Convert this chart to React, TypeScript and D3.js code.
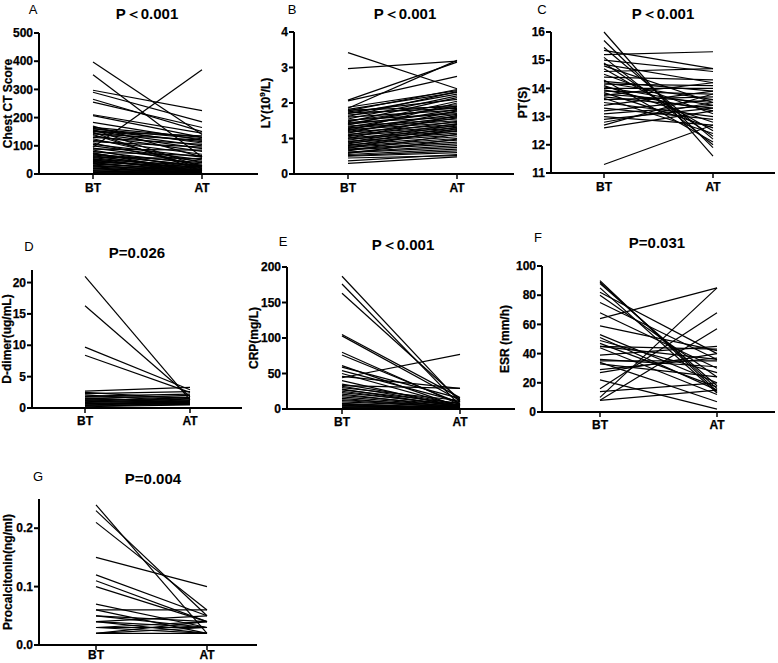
import React from "react";
import * as d3 from "d3";

// ---- Data ----
const groups = ["BT", "AT"];

const A_BT = [397, 352, 297, 290, 265, 255, 210, 207, 183, 170, 165, 162, 160, 158, 155, 152, 150, 148, 145, 142, 140, 135, 130, 125, 120, 115, 110, 105, 100, 95, 92, 88, 85, 80, 78, 75, 72, 70, 68, 65, 62, 60, 58, 55, 52, 50, 48, 45, 42, 40, 38, 35, 32, 30, 28, 25, 22, 20, 18, 15, 12, 10, 8, 5, 3];
const A_AT = [140, 60, 225, 185, 150, 165, 145, 130, 120, 60, 130, 110, 125, 25, 115, 100, 135, 10, 90, 120, 20, 80, 105, 40, 70, 95, 30, 60, 50, 370, 45, 85, 15, 35, 65, 5, 25, 40, 30, 10, 20, 55, 15, 5, 30, 12, 8, 20, 25, 5, 10, 15, 3, 8, 12, 5, 2, 6, 4, 2, 1, 3, 0, 2, 1];

const B_BT = [3.42, 2.97, 2.08, 2.06, 1.88, 1.85, 1.82, 1.80, 1.78, 1.75, 1.72, 1.70, 1.66, 1.62, 1.60, 1.55, 1.52, 1.50, 1.47, 1.45, 1.42, 1.40, 1.38, 1.35, 1.32, 1.30, 1.28, 1.25, 1.22, 1.20, 1.18, 1.15, 1.12, 1.10, 1.08, 1.05, 1.02, 1.00, 0.98, 0.95, 0.92, 0.90, 0.88, 0.85, 0.82, 0.80, 0.78, 0.75, 0.72, 0.70, 0.68, 0.65, 0.62, 0.60, 0.58, 0.55, 0.52, 0.50, 0.45, 0.37, 0.30];
const B_AT = [2.40, 3.18, 3.15, 2.75, 2.35, 3.20, 2.30, 1.90, 2.38, 2.10, 1.85, 2.25, 1.95, 2.32, 1.80, 2.20, 1.70, 1.88, 2.15, 1.60, 1.92, 1.75, 2.05, 1.55, 1.82, 1.50, 1.68, 1.45, 2.00, 1.62, 1.40, 1.78, 1.35, 1.58, 1.30, 1.48, 1.25, 1.65, 1.20, 1.42, 1.15, 1.38, 1.10, 1.32, 1.05, 1.22, 1.00, 0.95, 1.28, 0.90, 0.85, 1.12, 0.80, 0.75, 0.98, 0.70, 0.65, 0.60, 0.52, 0.55, 0.48];

const C_BT = [16.0, 15.7, 15.45, 15.35, 15.2, 15.1, 15.0, 14.9, 14.85, 14.8, 14.7, 14.6, 14.5, 14.4, 14.3, 14.25, 14.2, 14.15, 14.1, 14.05, 14.0, 13.95, 13.9, 13.85, 13.8, 13.75, 13.7, 13.65, 13.6, 13.5, 13.4, 13.3, 13.2, 13.1, 13.0, 12.9, 12.8, 12.7, 12.6, 11.3];
const C_AT = [11.6, 11.9, 12.2, 14.7, 15.3, 12.0, 14.6, 12.3, 14.2, 13.5, 12.5, 14.7, 13.1, 14.3, 12.1, 13.9, 13.6, 14.1, 12.8, 13.4, 14.0, 13.2, 13.8, 12.6, 13.5, 14.2, 13.3, 12.4, 13.7, 13.0, 13.9, 12.9, 13.6, 13.4, 12.7, 13.3, 13.5, 13.8, 13.2, 12.7];

const D_BT = [21.0, 16.3, 9.7, 8.4, 2.7, 2.5, 2.3, 2.1, 1.9, 1.8, 1.6, 1.5, 1.4, 1.3, 1.2, 1.1, 1.0, 0.9, 0.8, 0.7, 0.6, 0.5, 0.4, 0.3, 0.2];
const D_AT = [1.3, 1.8, 2.9, 2.5, 3.3, 1.5, 2.6, 1.0, 2.2, 1.7, 0.9, 2.0, 1.2, 0.8, 1.6, 0.7, 1.4, 1.1, 0.6, 1.0, 0.9, 0.8, 0.7, 0.6, 0.5];

const E_BT = [187, 176, 163, 105, 103, 80, 76, 61, 59, 54, 50, 46, 44, 40, 35, 33, 32, 30, 28, 27, 25, 23, 21, 19, 17, 15, 13, 12, 10, 8, 7, 6, 5, 4, 3, 2, 1];
const E_AT = [10, 5, 13, 16, 12, 6, 8, 3, 15, 10, 4, 29, 77, 2, 7, 29, 5, 12, 3, 8, 4, 6, 2, 5, 3, 1, 4, 2, 3, 1, 2, 1, 1, 2, 1, 1, 0.5];

const F_BT = [90, 89, 88, 85, 82, 80, 75, 68, 64, 59, 53, 51, 49, 47, 45, 45, 44, 39, 36, 35, 34, 33, 29, 27, 22, 16, 14, 10, 8, 8];
const F_AT = [14, 16, 18, 13, 40, 24, 36, 30, 85, 42, 20, 15, 27, 17, 36, 43, 12, 45, 31, 35, 7, 24, 37, 40, 2, 68, 20, 85, 57, 15];

const G_BT = [0.24, 0.23, 0.21, 0.15, 0.12, 0.11, 0.10, 0.07, 0.06, 0.06, 0.05, 0.05, 0.04, 0.04, 0.04, 0.03, 0.03, 0.03, 0.02, 0.02, 0.02];
const G_AT = [0.02, 0.05, 0.06, 0.10, 0.05, 0.04, 0.04, 0.03, 0.06, 0.02, 0.04, 0.03, 0.05, 0.02, 0.03, 0.04, 0.02, 0.03, 0.04, 0.02, 0.03];

const letters = ["A", "B", "C", "D", "E", "F", "G"];
const titles = ["P\uFF1C0.001", "P\uFF1C0.001", "P\uFF1C0.001", "P=0.026", "P\uFF1C0.001", "P=0.031", "P=0.004"];
const yLabels = ["Chest CT Score", "LY", "PT(S)", "D-dimer(ug/mL)", "CRP(mg/L)", "ESR (mm/h)", "Procalcitonin(ng/ml)"];
const yDomains: [number, number][] = [[0, 500], [0, 4], [11, 16], [0, 22], [0, 200], [0, 100], [0, 0.25]];
const yTicks = [[0, 100, 200, 300, 400, 500], [0, 1, 2, 3, 4], [11, 12, 13, 14, 15, 16], [0, 5, 10, 15, 20], [0, 50, 100, 150, 200], [0, 20, 40, 60, 80, 100], [0, 0.1, 0.2]];
const tickFormats = ["d", "d", "d", "d", "d", "d", ".1f"];
const seriesBT = [A_BT, B_BT, C_BT, D_BT, E_BT, F_BT, G_BT];
const seriesAT = [A_AT, B_AT, C_AT, D_AT, E_AT, F_AT, G_AT];

// ---- Layout (pixels) ----
const layouts = [
  { ax: 39, xEnd: 258, yTop: 33, yBot: 174, bt: 93, at: 202, tx: 147, ty: 19, lx: 33, ly: 14, ylx: 12, xl: 18 },
  { ax: 294, xEnd: 514, yTop: 32, yBot: 174, bt: 348, at: 457, tx: 405, ty: 19, lx: 292, ly: 14, ylx: 270, xl: 18 },
  { ax: 551, xEnd: 775, yTop: 32, yBot: 173, bt: 604, at: 713, tx: 663, ty: 19, lx: 542, ly: 14, ylx: 527, xl: 18 },
  { ax: 32, xEnd: 242, yTop: 270, yBot: 408, bt: 85, at: 190, tx: 137, ty: 258, lx: 29, ly: 251, ylx: 11, xl: 17 },
  { ax: 287, xEnd: 515, yTop: 267, yBot: 409, bt: 342, at: 460, tx: 403, ty: 250, lx: 283, ly: 246, ylx: 258, xl: 17 },
  { ax: 542, xEnd: 775, yTop: 266, yBot: 412, bt: 600, at: 717, tx: 657, ty: 248, lx: 538, ly: 242, ylx: 509, xl: 17 },
  { ax: 39, xEnd: 257, yTop: 499, yBot: 645, bt: 96, at: 207, tx: 153, ty: 484, lx: 38, ly: 481, ylx: 12, xl: 14 },
];

const FONT = "'Liberation Sans', Arial, Helvetica, sans-serif";

function Panel({ i }: { i: number }) {
  const L = layouts[i];
  const y = d3.scaleLinear().domain(yDomains[i]).range([L.yBot, L.yTop]);
  const x = d3.scalePoint<string>().domain(groups).range([L.bt, L.at]);
  const fmt = d3.format(tickFormats[i]);
  const bt = seriesBT[i];
  const at = seriesAT[i];
  const line = d3.line<[string, number]>().x((d) => x(d[0]) as number).y((d) => y(d[1]));
  const yMid = (L.yTop + L.yBot) / 2;
  return (
    <g>
      <text x={L.lx} y={L.ly} fontSize={13} fontFamily={FONT} textAnchor="middle">{letters[i]}</text>
      <text x={L.tx} y={L.ty} fontSize={15} fontWeight="bold" fontFamily={FONT} textAnchor="middle">{titles[i]}</text>
      {bt.map((v, k) => (
        <path key={k} d={line([["BT", v], ["AT", at[k]]]) || ""} stroke="#000" strokeWidth={1.2} fill="none" />
      ))}
      <line x1={L.ax} x2={L.ax} y1={y.range()[1]} y2={L.yBot + 1} stroke="#000" strokeWidth={2} />
      <line x1={L.ax - 1} x2={L.xEnd} y1={L.yBot} y2={L.yBot} stroke="#000" strokeWidth={2} />
      {yTicks[i].map((t) => (
        <g key={t}>
          <line x1={L.ax - 5} x2={L.ax} y1={y(t)} y2={y(t)} stroke="#000" strokeWidth={2} />
          <text x={L.ax - 6} y={y(t)} dy="0.35em" fontSize={12} fontWeight="bold" fontFamily={FONT} textAnchor="end" stroke="#000" strokeWidth={0.25}>{fmt(t)}</text>
        </g>
      ))}
      {groups.map((g) => (
        <g key={g}>
          <line x1={x(g)} x2={x(g)} y1={L.yBot} y2={L.yBot + 5} stroke="#000" strokeWidth={1.5} />
          <text x={x(g)} y={L.yBot + L.xl} fontSize={12} fontWeight="bold" fontFamily={FONT} textAnchor="middle" stroke="#000" strokeWidth={0.25}>{g}</text>
        </g>
      ))}
      <text transform={`translate(${L.ylx},${yMid}) rotate(-90)`} fontSize={12} fontWeight="bold" fontFamily={FONT} textAnchor="middle" stroke="#000" strokeWidth={0.25}>
        {i === 1 ? (
          <>
            LY(10<tspan dy={-5} fontSize={8}>9</tspan><tspan dy={5}>/L)</tspan>
          </>
        ) : (
          yLabels[i]
        )}
      </text>
    </g>
  );
}

export default function App() {
  return (
    <svg width={778} height={663} style={{ position: "absolute", left: 0, top: 0, background: "#fff" }}>
      <rect width={778} height={663} fill="#fff" />
      {layouts.map((_, i) => (
        <Panel key={i} i={i} />
      ))}
    </svg>
  );
}
